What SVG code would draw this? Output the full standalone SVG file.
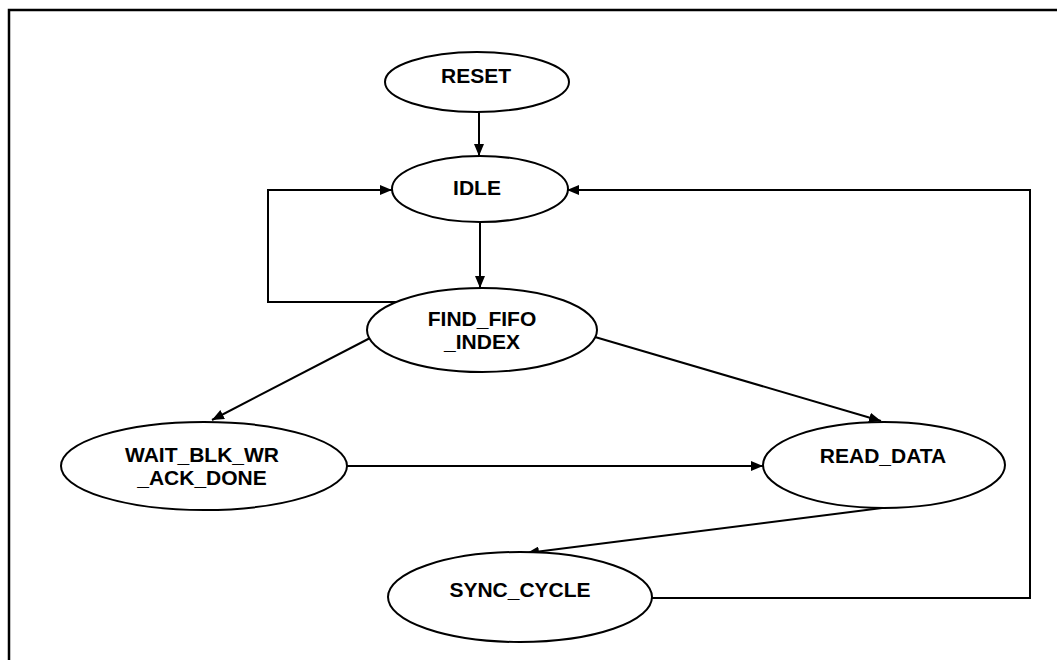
<svg xmlns="http://www.w3.org/2000/svg" width="1057" height="660" viewBox="0 0 1057 660">
<defs>
<style>
.node ellipse{fill:#fff;stroke:#000;stroke-width:2}
.node text{font-family:"Liberation Sans",Arial,sans-serif;font-weight:bold;font-size:21px;text-anchor:middle;fill:#000}
.edge{fill:none;stroke:#000;stroke-width:2}
.frame{fill:none;stroke:#000;stroke-width:2.5}
</style>
<marker id="arr" viewBox="0 0 12 10" refX="12" refY="5" markerWidth="12" markerHeight="10" markerUnits="userSpaceOnUse" orient="auto">
<path d="M0,0 L12,5 L0,10 Z" fill="#000"/>
</marker>
</defs>
<rect width="1057" height="660" fill="#fff"/>
<path class="frame" d="M9,660 L9,10 L1057,10"/>
<g id="connectors">
<path class="edge" d="M479,112 L479,156" stroke="#444" marker-end="url(#arr)"/>
<path class="edge" d="M480,222 L480,288" marker-end="url(#arr)"/>
<path class="edge" d="M396,302 L268,302 L268,190 L392,190" marker-end="url(#arr)"/>
<path class="edge" d="M372,337 L212,420" marker-end="url(#arr)"/>
<path class="edge" d="M595,337 L881,421" marker-end="url(#arr)"/>
<path class="edge" d="M347,466 L763,466" marker-end="url(#arr)"/>
<path class="edge" d="M882,508 L527,553" marker-end="url(#arr)"/>
<path class="edge" d="M652,598 L1030,598 L1030,190 L567,190" marker-end="url(#arr)"/>
</g>
<g id="RESET" class="node">
<ellipse cx="477" cy="82" rx="92" ry="30"/>
<text x="476" y="83">RESET</text>
</g>
<g id="IDLE" class="node">
<ellipse cx="480" cy="189" rx="88" ry="33"/>
<text x="477" y="195">IDLE</text>
</g>
<g id="FIND_FIFO_INDEX" class="node">
<ellipse cx="482" cy="330" rx="115" ry="42"/>
<text x="482" y="326">FIND_FIFO</text>
<text x="482" y="349">_INDEX</text>
</g>
<g id="WAIT_BLK_WR_ACK_DONE" class="node">
<ellipse cx="204" cy="466" rx="143" ry="44"/>
<text x="202" y="462">WAIT_BLK_WR</text>
<text x="202" y="485">_ACK_DONE</text>
</g>
<g id="READ_DATA" class="node">
<ellipse cx="884" cy="465" rx="121" ry="43"/>
<text x="883" y="463">READ_DATA</text>
</g>
<g id="SYNC_CYCLE" class="node">
<ellipse cx="520" cy="597" rx="132" ry="45"/>
<text x="520" y="597">SYNC_CYCLE</text>
</g>
</svg>
